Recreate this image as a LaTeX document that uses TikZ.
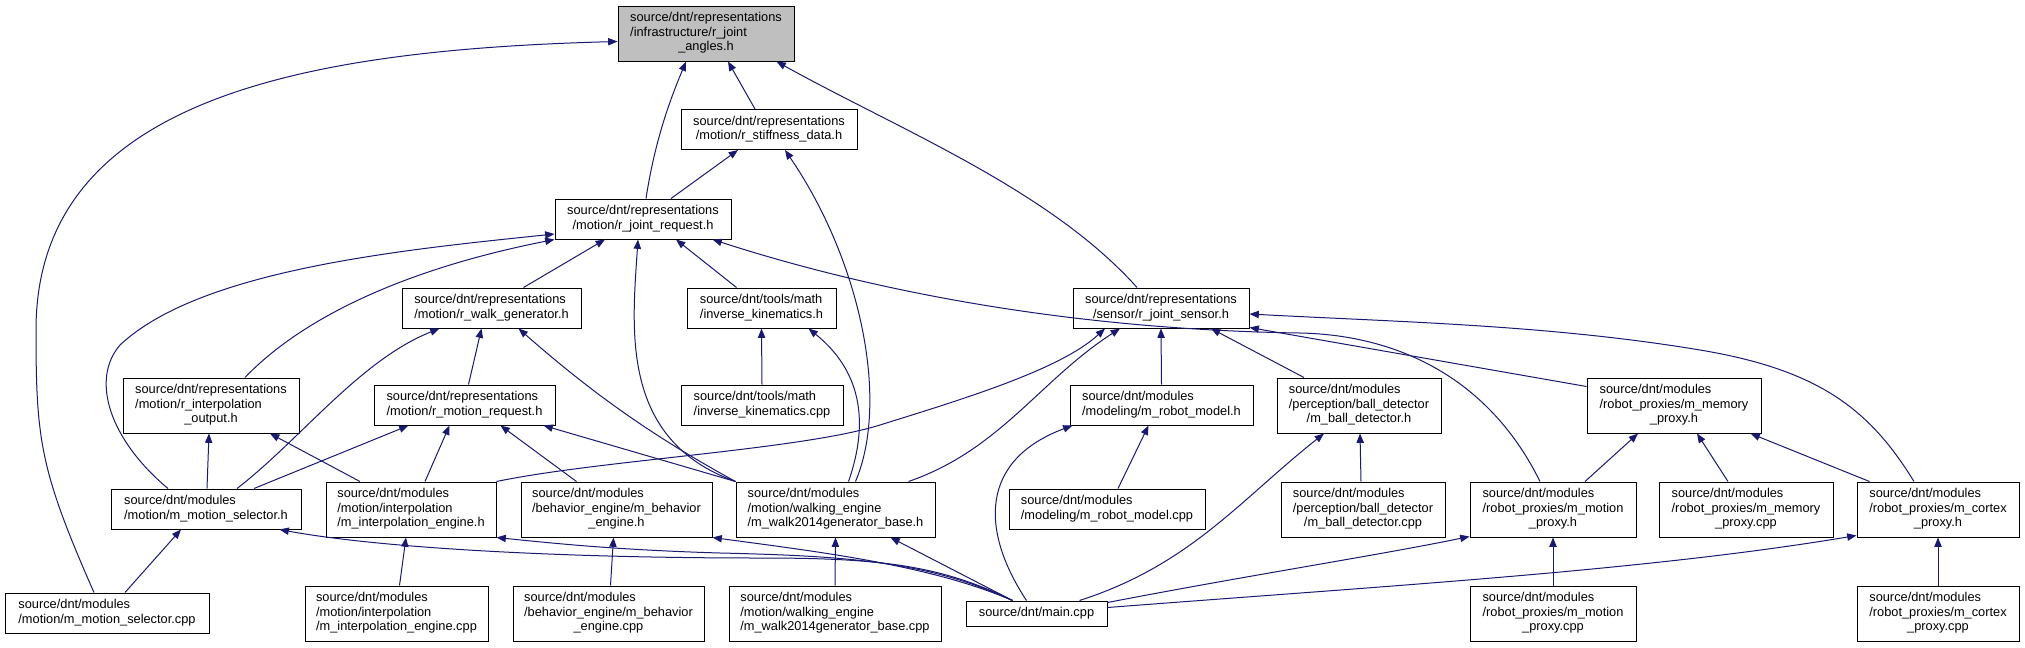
\documentclass[tikz,border=0pt]{standalone}
\usepackage{fontspec}
\setmainfont{Liberation Sans}
\usepackage{xcolor}
\usetikzlibrary{arrows.meta,calc}
\definecolor{incblue}{HTML}{191970}
\definecolor{rootgray}{HTML}{BFBFBF}
\tikzset{
  file/.style={draw=black, line width=0.75pt, fill=white, inner sep=0pt,
               align=center, font=\fontsize{9.6}{10.9}\selectfont},
  two/.style={file, minimum height=30pt},
  three/.style={file, minimum height=41.25pt},
  inc/.style={draw=incblue, line width=0.75pt, -{Triangle[length=7pt,width=5.5pt]}},
}
% all lines left, last line centred (doxygen labels)
\newcommand{\flab}[2]{\begin{tabular}{@{}l@{}}#1\\\multicolumn{1}{@{}c@{}}{#2}\end{tabular}}

\begin{document}
\begin{tikzpicture}[x=0.75pt, y=-0.75pt]
  \useasboundingbox (0,0) rectangle (2025,647);
  % row 1-3
  \node[three, fill=rootgray, minimum width=132pt] (angles) at (706,33.5)
    {\flab{source/dnt/representations\\/infrastructure/r\_joint}{\_angles.h}};
  \node[two, minimum width=132pt] (stiff) at (769,129.5)
    {\flab{source/dnt/representations}{/motion/r\_stiffness\_data.h}};
  \node[two, minimum width=132pt] (jointreq) at (643,219)
    {\flab{source/dnt/representations}{/motion/r\_joint\_request.h}};
  \node[two, minimum width=134.25pt] (walkgen) at (491.5,308)
    {\flab{source/dnt/representations}{/motion/r\_walk\_generator.h}};
  \node[two, minimum width=111.75pt] (invkinh) at (761.5,308)
    {\flab{source/dnt/tools/math}{/inverse\_kinematics.h}};
  \node[two, minimum width=132pt] (jointsensor) at (1161,308)
    {\flab{source/dnt/representations}{/sensor/r\_joint\_sensor.h}};
  % row 4
  \node[three, minimum width=132pt] (interpout) at (211,405.5)
    {\flab{source/dnt/representations\\/motion/r\_interpolation}{\_output.h}};
  \node[two, minimum width=135.75pt] (motionreq) at (464.5,405)
    {\flab{source/dnt/representations}{/motion/r\_motion\_request.h}};
  \node[two, minimum width=121.5pt] (invkincpp) at (762,405)
    {\flab{source/dnt/tools/math}{/inverse\_kinematics.cpp}};
  \node[two, minimum width=137.25pt] (robmodelh) at (1161.5,405)
    {\flab{source/dnt/modules}{/modeling/m\_robot\_model.h}};
  \node[three, minimum width=123pt] (balldeth) at (1359,405.5)
    {\flab{source/dnt/modules\\/perception/ball\_detector}{/m\_ball\_detector.h}};
  \node[three, minimum width=130.5pt] (memproxh) at (1674,405.5)
    {\flab{source/dnt/modules\\/robot\_proxies/m\_memory}{\_proxy.h}};
  % row 5
  \node[two, minimum width=142.5pt] (motselh) at (206,509)
    {\flab{source/dnt/modules}{/motion/m\_motion\_selector.h}};
  \node[three, minimum width=127.5pt] (interph) at (411,509.5)
    {\flab{source/dnt/modules\\/motion/interpolation}{/m\_interpolation\_engine.h}};
  \node[three, minimum width=143.25pt] (behh) at (616.5,509.5)
    {\flab{source/dnt/modules\\/behavior\_engine/m\_behavior}{\_engine.h}};
  \node[three, minimum width=149.25pt] (walkh) at (835.5,509.5)
    {\flab{source/dnt/modules\\/motion/walking\_engine}{/m\_walk2014generator\_base.h}};
  \node[two, minimum width=147pt] (robmodelcpp) at (1107,509)
    {\flab{source/dnt/modules}{/modeling/m\_robot\_model.cpp}};
  \node[three, minimum width=123pt] (balldetcpp) at (1363,509.5)
    {\flab{source/dnt/modules\\/perception/ball\_detector}{/m\_ball\_detector.cpp}};
  \node[three, minimum width=124.5pt] (motproxh) at (1553,509.5)
    {\flab{source/dnt/modules\\/robot\_proxies/m\_motion}{\_proxy.h}};
  \node[three, minimum width=130.5pt] (memproxcpp) at (1746,509.5)
    {\flab{source/dnt/modules\\/robot\_proxies/m\_memory}{\_proxy.cpp}};
  \node[three, minimum width=121.5pt] (cortexh) at (1938,509.5)
    {\flab{source/dnt/modules\\/robot\_proxies/m\_cortex}{\_proxy.h}};
  % row 6
  \node[two, minimum width=153pt] (motselcpp) at (107,613)
    {\flab{source/dnt/modules}{/motion/m\_motion\_selector.cpp}};
  \node[three, minimum width=137.25pt] (interpcpp) at (396.5,613.5)
    {\flab{source/dnt/modules\\/motion/interpolation}{/m\_interpolation\_engine.cpp}};
  \node[three, minimum width=143.25pt] (behcpp) at (608.5,613.5)
    {\flab{source/dnt/modules\\/behavior\_engine/m\_behavior}{\_engine.cpp}};
  \node[three, minimum width=159pt] (walkcpp) at (835,613.5)
    {\flab{source/dnt/modules\\/motion/walking\_engine}{/m\_walk2014generator\_base.cpp}};
  \node[file, minimum width=105.75pt, minimum height=18.75pt] (maincpp) at (1036.5,613.5)
    {source/dnt/main.cpp};
  \node[three, minimum width=124.5pt] (motproxcpp) at (1553,613.5)
    {\flab{source/dnt/modules\\/robot\_proxies/m\_motion}{\_proxy.cpp}};
  \node[three, minimum width=121.5pt] (cortexcpp) at (1938,613.5)
    {\flab{source/dnt/modules\\/robot\_proxies/m\_cortex}{\_proxy.cpp}};

  % includes of r_joint_angles.h
  \draw[inc] ($(motselcpp.north)+(-13,0)$) .. controls (40,470) and (36,440) .. (36,330)
    .. controls (36,100) and (300,50) .. ($(angles.west)+(0,8)$);
  \draw[inc] ($(jointreq.north)+(3,0)$) .. controls (655,140) and (670,100) .. ($(angles.south)+(-20,0)$);
  \draw[inc] ($(stiff.north)+(-14,0)$) -- ($(angles.south)+(22,0)$);
  \draw[inc] ($(jointsensor.north)+(-24,0)$) .. controls (1050,190) and (900,130) .. ($(angles.south east)+(-18,0)$);
  % r_stiffness_data.h
  \draw[inc] ($(jointreq.north)+(28,0)$) -- ($(stiff.south)+(-31,0)$);
  \draw[inc] ($(walkh.north)+(20,0)$) .. controls (890,400) and (860,260) .. ($(stiff.south)+(16,0)$);
  % r_joint_request.h
  \draw[inc] ($(walkgen.north)+(32,0)$) -- ($(jointreq.south)+(-38,0)$);
  \draw[inc] (walkh.north west) .. controls (620,440) and (632,330) .. ($(jointreq.south)+(-5,0)$);
  \draw[inc] ($(invkinh.north)+(-25,0)$) -- ($(jointreq.south)+(33,0)$);
  \draw[inc] ($(interpout.north)+(34,0)$) .. controls (300,320) and (400,270) .. (jointreq.south west);
  \draw[inc] ($(motselh.north)+(-38,0)$) .. controls (110,440) and (90,380) .. (120,345)
    .. controls (200,270) and (400,250) .. ($(jointreq.west)+(0,15)$);
  \draw[inc] ($(motproxh.north)+(-13,0)$) .. controls (1490,380) and (1400,335) .. (1300,333)
    .. controls (1100,330) and (900,300) .. ($(jointreq.south east)+(-19,0)$);
  % r_joint_sensor.h
  \draw[inc] (interph.north east) .. controls (600,460) and (800,450) .. (880,425)
    .. controls (960,400) and (1060,370) .. ($(jointsensor.south)+(-56,0)$);
  \draw[inc] ($(walkh.north)+(73,0)$) .. controls (1000,450) and (1040,380) .. ($(jointsensor.south)+(-41,0)$);
  \draw[inc] (robmodelh.north) -- (jointsensor.south);
  \draw[inc] ($(balldeth.north)+(-55,0)$) -- ($(jointsensor.south)+(50,0)$);
  \draw[inc] ($(memproxh.north west)+(0,9)$) -- ($(jointsensor.south east)+(0,-1)$);
  \draw[inc] ($(cortexh.north)+(-24,0)$) .. controls (1870,410) and (1820,370) .. (1700,350)
    .. controls (1550,325) and (1400,322) .. ($(jointsensor.east)+(0,6)$);
  % r_walk_generator.h, inverse_kinematics.h
  \draw[inc] ($(motselh.north)+(31,0)$) .. controls (300,440) and (360,360) .. ($(walkgen.south)+(-52,0)$);
  \draw[inc] ($(motionreq.north)+(4,0)$) -- ($(walkgen.south)+(-10,0)$);
  \draw[inc] (walkh.north west) .. controls (660,440) and (600,400) .. ($(walkgen.south)+(27,0)$);
  \draw[inc] ($(walkh.north)+(13,0)$) .. controls (870,420) and (860,370) .. ($(invkinh.south)+(47,0)$);
  \draw[inc] (invkincpp.north) -- (invkinh.south);
  % r_interpolation_output.h, r_motion_request.h
  \draw[inc] ($(motselh.north)+(1,0)$) -- ($(interpout.south)+(-2,0)$);
  \draw[inc] ($(interph.north)+(-51,0)$) -- ($(interpout.south)+(59,0)$);
  \draw[inc] ($(motselh.north)+(48,0)$) -- ($(motionreq.south)+(-56,0)$);
  \draw[inc] ($(interph.north)+(14,0)$) -- ($(motionreq.south)+(-15,0)$);
  \draw[inc] ($(behh.north)+(-40,0)$) -- ($(motionreq.south)+(36,0)$);
  \draw[inc] (walkh.north west) -- ($(motionreq.south east)+(-12,0)$);
  % modules
  \draw[inc] ($(robmodelcpp.north)+(11,0)$) -- ($(robmodelh.south)+(-13,0)$);
  \draw[inc] ($(balldetcpp.north)+(-2,0)$) -- ($(balldeth.south)+(1,0)$);
  \draw[inc] ($(motproxh.north)+(32,0)$) -- ($(memproxh.south)+(-36,0)$);
  \draw[inc] ($(memproxcpp.north)+(-18,0)$) -- ($(memproxh.south)+(23,0)$);
  \draw[inc] ($(cortexh.north west)+(13,0)$) -- ($(memproxh.south east)+(-11,0)$);
  \draw[inc] ($(motselcpp.north)+(18,0)$) -- ($(motselh.south)+(-25,0)$);
  \draw[inc] ($(interpcpp.north)+(3,0)$) -- ($(interph.south)+(-5,0)$);
  \draw[inc] ($(behcpp.north)+(2,0)$) -- ($(behh.south)+(-3,0)$);
  \draw[inc] (walkcpp.north) -- (walkh.south);
  \draw[inc] (motproxcpp.north) -- (motproxh.south);
  \draw[inc] (cortexcpp.north) -- (cortexh.south);
  % main.cpp
  \draw[inc] ($(maincpp.north)+(-24,0)$) .. controls (940,565) and (880,558) .. (760,558)
    .. controls (560,558) and (380,548) .. ($(motselh.south east)+(-22,0)$);
  \draw[inc] ($(maincpp.north)+(-24,0)$) .. controls (930,562) and (850,556) .. (720,553)
    .. controls (620,550) and (560,544) .. (interph.south east);
  \draw[inc] ($(maincpp.north)+(-24,0)$) .. controls (930,565) and (820,552) .. (behh.south east);
  \draw[inc] ($(maincpp.north)+(-24,0)$) -- ($(walkh.south east)+(-45,0)$);
  \draw[inc] ($(maincpp.north)+(-10,0)$) .. controls (980,530) and (980,460) .. ($(robmodelh.south west)+(3,0)$);
  \draw[inc] ($(maincpp.north)+(43,0)$) .. controls (1190,565) and (1240,500) .. ($(balldeth.south)+(-35,0)$);
  \draw[inc] ($(maincpp.north east)+(0,2)$) .. controls (1250,575) and (1380,555) .. ($(motproxh.south west)+(0,-1)$);
  \draw[inc] ($(maincpp.east)+(0,-6)$) .. controls (1400,585) and (1650,570) .. ($(cortexh.south west)+(0,-2)$);
\end{tikzpicture}
\end{document}
